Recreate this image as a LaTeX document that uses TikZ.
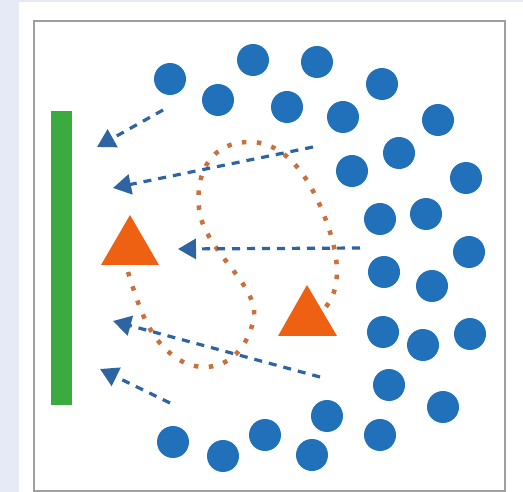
\documentclass[tikz,border=0pt]{standalone}
\usetikzlibrary{arrows.meta}
\definecolor{bgl}{HTML}{E6E9F6}
\definecolor{dotblue}{HTML}{2171BA}
\definecolor{arrblue}{HTML}{2E64A2}
\definecolor{tri}{HTML}{EE6012}
\definecolor{path}{HTML}{C8703E}
\definecolor{bar}{HTML}{3BAA3F}
\begin{document}
\begin{tikzpicture}[x=1pt,y=-1pt,
  ball/.style={circle,fill=dotblue,inner sep=0pt,minimum size=32pt},
  tribox/.style={fill=tri},
  flow/.style={arrblue,line width=3.2pt,dash pattern=on 8pt off 7pt,
    -{Triangle[length=18pt,width=20pt]}},
  route/.style={path,line width=4.5pt,dash pattern=on 4.5pt off 10.5pt}]
\useasboundingbox (0,0) rectangle (523,492);
\fill[bgl] (0,0) rectangle (523,492);
\fill[white] (19,2) rectangle (523,492);
\draw[gray!75,line width=2pt] (34,21) rectangle (505,491);
\fill[bar] (51,111) rectangle (72,405);
% balls
\foreach \x/\y [count=\i] in {170/79,253/60,317/62,218/100,287/107,382/84,343/117,438/120,399/153,352/171,466/178,380/219,426/214,469/252,384/272,432/286,383/332,423/345,470/334,389/385,443/407,327/416,380/435,173/442,223/456,265/435,312/455}
  \node[ball] (b\i) at (\x,\y) {};
% triangles
\fill[tribox] (130,215) -- (159,265) -- (101,265) -- cycle;
\fill[tribox] (307,285) -- (337,336) -- (278,336) -- cycle;
% route
\draw[route] (128,272) .. controls (140,310) and (150,345) .. (185,363)
  .. controls (215,375) and (245,360) .. (254,318)
  .. controls (258,285) and (210,255) .. (200,215)
  .. controls (193,175) and (210,140) .. (253,142)
  .. controls (295,145) and (318,195) .. (330,232)
  .. controls (340,265) and (340,290) .. (325,308);
% arrows
\coordinate (s1) at (163,110); \coordinate (e1) at (97,147);
\coordinate (s2) at (313,147); \coordinate (e2) at (113,188);
\coordinate (s3) at (360,248); \coordinate (e3) at (178,249);
\coordinate (s4) at (320,377); \coordinate (e4) at (113,321);
\coordinate (s5) at (170,403); \coordinate (e5) at (100,369);
\foreach \i in {1,...,5} \draw[flow] (s\i) -- (e\i);
\end{tikzpicture}
\end{document}
